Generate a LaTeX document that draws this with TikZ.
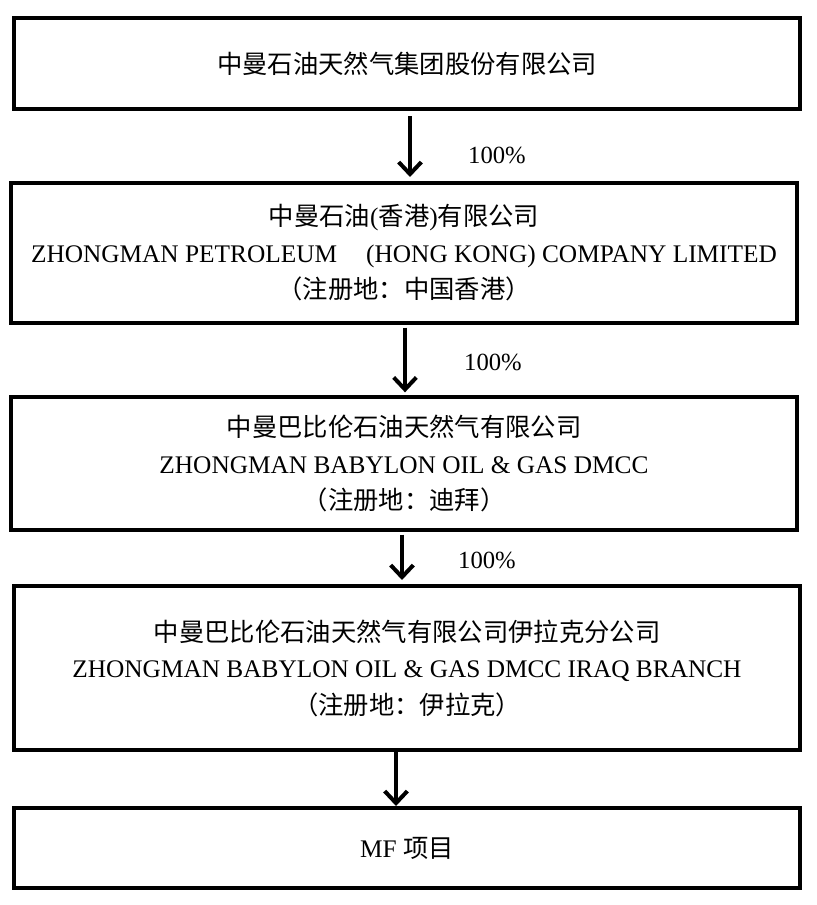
\documentclass[tikz,border=0pt]{standalone}
\usepackage{fontspec}
\setmainfont{Liberation Serif}
\newfontfamily\cjk{Noto Sans CJK SC}
\usetikzlibrary{arrows.meta}
\begin{document}
\begin{tikzpicture}[x=0.75pt,y=-0.75pt,
  box/.style={draw,line width=3pt,minimum width=786*0.75pt,inner sep=0pt,align=center,
    font=\fontsize{19pt}{27.4pt}\selectfont},
  arr/.style={line width=3pt,-{Straight Barb[length=9pt,width=17pt,line width=3pt]}},
  pct/.style={font=\fontsize{18.5pt}{22pt}\selectfont,inner sep=0pt}]
\useasboundingbox (0,0) rectangle (816,905);
\node[box,minimum height=91*0.75pt] (b1) at (407,63.5) {\cjk 中曼石油天然气集团股份有限公司};
\node[box,minimum height=140*0.75pt] (b2) at (404,253) {{\cjk 中曼石油}({\cjk 香港}){\cjk 有限公司}\\ZHONGMAN PETROLEUM\hspace{1.15em}(HONG KONG) COMPANY LIMITED\\{\cjk （注册地：中国香港）}};
\node[box,minimum height=133*0.75pt] (b3) at (404,463.5) {{\cjk 中曼巴比伦石油天然气有限公司}\\ZHONGMAN BABYLON OIL \& GAS DMCC\\{\cjk （注册地：迪拜）}};
\node[box,minimum height=164*0.75pt] (b4) at (407,668) {{\cjk 中曼巴比伦石油天然气有限公司伊拉克分公司}\\ZHONGMAN BABYLON OIL \& GAS DMCC IRAQ BRANCH\\{\cjk （注册地：伊拉克）}};
\node[box,minimum height=80*0.75pt] (b5) at (407,848) {MF {\cjk 项目}};
\draw[arr,shorten <=4pt,shorten >=3pt] (b1.south -| 410,0) -- (b2.north -| 410,0);
\draw[arr,shorten <=2pt,shorten >=2pt] (b2.south -| 405,0) -- (b3.north -| 405,0);
\draw[arr,shorten <=2pt,shorten >=3pt] (b3.south -| 402,0) -- (b4.north -| 402,0);
\draw[arr] (b4.south -| 396,0) -- (b5.north -| 396,0);
\node[pct] (p1) at (497,155) {100\%};
\node[pct] (p2) at (493,362) {100\%};
\node[pct] (p3) at (487,560) {100\%};
\end{tikzpicture}
\end{document}
